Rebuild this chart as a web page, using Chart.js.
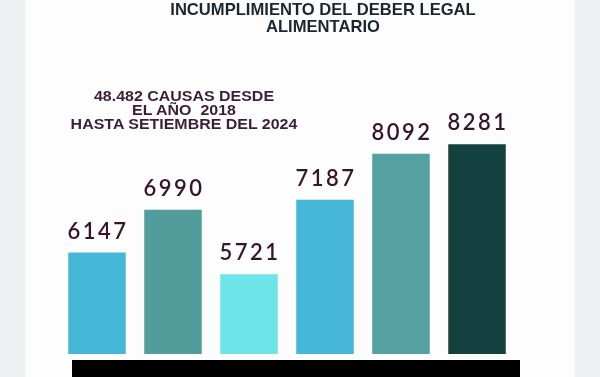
<!DOCTYPE html>
<html lang="es">
<head>
    <meta charset="UTF-8">
    <title>Incumplimiento del deber legal alimentario</title>
    <script src="https://cdn.jsdelivr.net/npm/chart.js"></script>
    <style>
        body { margin: 0; background: #eff0f2; width: 600px; height: 377px; overflow: hidden; position: relative; }
        #panel { position: absolute; left: 25px; top: 0; width: 550px; height: 377px; background: #fdfdfd; }
        #chart { position: absolute; left: 0; top: 0; }
        .title { position: absolute; left: 153px; width: 340px; top: 1px; text-align: center;
                 font: bold 16.6px "Liberation Sans", Arial, sans-serif; color: #1b2730; line-height: 17px; }
        .note { position: absolute; left: 51px; width: 266px; top: 89px; text-align: center;
                font: bold 14px "Liberation Sans", Arial, sans-serif; color: #3a1f38; line-height: 14px;
                white-space: pre; transform: scaleX(1.14); transform-origin: 50% 0; }
    </style>
</head>
<body>
    <div id="panel"></div>
    <canvas id="chart" width="600" height="377"></canvas>
    <div class="title">INCUMPLIMIENTO DEL DEBER LEGAL<br>ALIMENTARIO</div>
    <div class="note">48.482 CAUSAS DESDE
EL AÑO  2018
HASTA SETIEMBRE DEL 2024</div>

    <script>
        // datos (años 2018 - 2024)
        const years = ["2019", "2020", "2021", "2022", "2023", "2024"];
        const causas = [6147, 6990, 5721, 7187, 8092, 8281];
        const barColors = ["#44b8d6", "#529c9c", "#6ce4e8", "#44b8d6", "#55a0a0", "#134140"];

        // etiquetas de valor encima de cada barra
        const valueLabels = {
            id: "valueLabels",
            afterDatasetsDraw(chart) {
                const ctx = chart.ctx;
                const meta = chart.getDatasetMeta(0);
                ctx.save();
                ctx.font = "600 22px Lato, sans-serif";
                ctx.letterSpacing = "2.5px";
                ctx.fillStyle = "#34152a";
                ctx.textAlign = "center";
                ctx.textBaseline = "alphabetic";
                meta.data.forEach((bar, i) => {
                    ctx.fillText(String(causas[i]), bar.x + 1, bar.y - 14);
                });
                ctx.restore();
            }
        };

        // franja negra de base
        const baseStrip = {
            id: "baseStrip",
            afterDraw(chart) {
                const a = chart.chartArea;
                const ctx = chart.ctx;
                ctx.save();
                ctx.fillStyle = "#000000";
                ctx.fillRect(a.left + 13, a.bottom + 6, a.right - a.left - 8, 30);
                ctx.restore();
            }
        };

        new Chart(document.getElementById("chart"), {
            type: "bar",
            data: {
                labels: years,
                datasets: [{
                    data: causas,
                    backgroundColor: barColors,
                    borderWidth: 0,
                    categoryPercentage: 0.86,
                    barPercentage: 0.88
                }]
            },
            options: {
                responsive: false,
                animation: false,
                layout: { padding: { left: 59, right: 85, top: 57, bottom: 23 } },
                plugins: { legend: { display: false }, tooltip: { enabled: false } },
                scales: {
                    x: { display: false },
                    y: { display: false, min: 4150, max: 10000 }
                }
            },
            plugins: [valueLabels, baseStrip]
        });
    </script>
</body>
</html>
